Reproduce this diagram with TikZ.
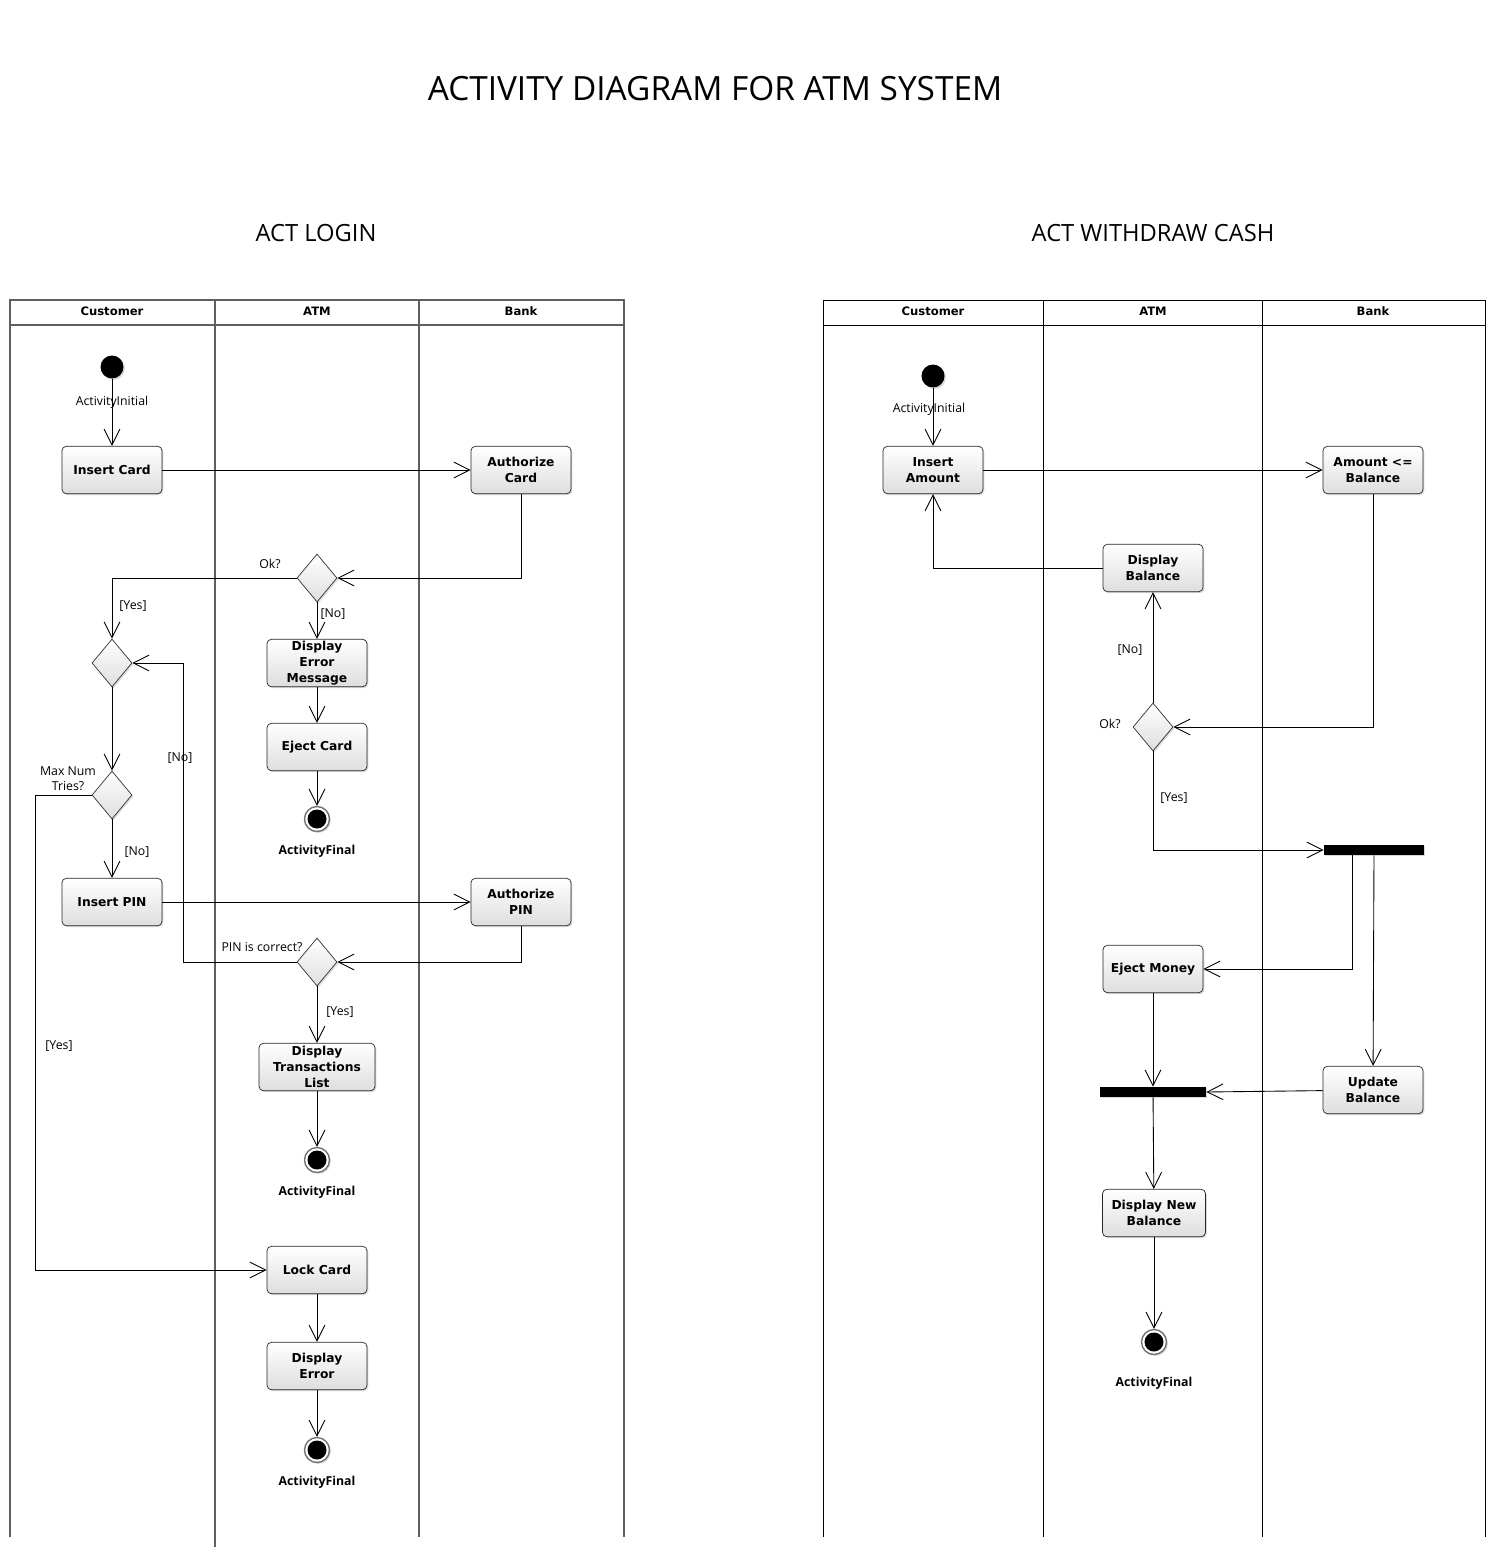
\documentclass[tikz,border=0pt]{standalone}
\usepackage{fontspec}
\setmainfont{Open Sans}
\newfontfamily\boxfont{DejaVu Sans}
\definecolor{lanegray}{RGB}{95, 95, 95}
\definecolor{boxgray}{RGB}{222, 222, 222}
\usetikzlibrary{shapes.geometric, arrows.meta, positioning, shadows}

\tikzset{
  flow/.style={draw=black, line width=0.5pt, -{Straight Barb[length=9pt,width=9pt]}},
  softshadow/.style={drop shadow={opacity=0.3, shadow xshift=0.8pt, shadow yshift=-0.8pt}},
  action/.style={draw=black!85, rounded corners=2.5pt, top color=white, bottom color=boxgray,
    softshadow, minimum width=2cm, minimum height=0.95cm, inner sep=1pt, align=center,
    font=\boxfont\bfseries\fontsize{7}{9}\selectfont},
  decision/.style={diamond, draw=black!80, top color=white, bottom color=boxgray, softshadow,
    minimum width=0.8cm, minimum height=0.96cm, inner sep=0pt},
  initial/.style={circle, fill=black, minimum size=0.46cm, inner sep=0pt, softshadow},
  final/.style={circle, draw=black!55, fill=white, line width=0.8pt, minimum size=0.5cm, inner sep=0pt,
    softshadow, path picture={\fill[black] (path picture bounding box.center) circle (0.19cm);}},
  syncbar/.style={fill=black, minimum width=2cm, minimum height=0.2cm, inner sep=0pt, softshadow},
  guard/.style={font=\fontsize{7}{8.5}\selectfont, inner sep=0pt, align=center},
  lanehead/.style={font=\boxfont\bfseries\fontsize{6.6}{8}\selectfont},
  endlabel/.style={font=\bfseries\fontsize{7}{8}\selectfont}
}

\begin{document}
\begin{tikzpicture}[x=0.02cm, y=-0.02cm]
  \useasboundingbox (0,0) rectangle (1495,1557);
  \node[font=\fontsize{19}{22}\selectfont] (title) at (715,89) {ACTIVITY DIAGRAM FOR ATM SYSTEM};
  \node[font=\fontsize{13.5}{16}\selectfont] (loginttl) at (316,233) {ACT LOGIN};
  \node[font=\fontsize{13.5}{16}\selectfont] (cashttl) at (1153,233) {ACT WITHDRAW CASH};

  % swimlanes, login
  \draw[lanegray, line width=1pt] (10,1537) -- (10,300) -- (624,300) -- (624,1537);
  \draw[lanegray, line width=1pt] (10,325) -- (624,325);
  \draw[lanegray, line width=1pt] (215,300) -- (215,1547) (419,300) -- (419,1537);
  \node[lanehead] (lcust) at (112,311) {Customer};
  \node[lanehead] (latm) at (317,311) {ATM};
  \node[lanehead] (lbank) at (521,311) {Bank};

  % swimlanes, withdraw
  \draw[black, line width=0.5pt] (823,1537) -- (823,300) -- (1485,300) -- (1485,1537);
  \draw[black, line width=0.5pt] (823,325) -- (1485,325);
  \draw[black, line width=0.5pt] (1043,300) -- (1043,1537) (1262,300) -- (1262,1537);
  \node[lanehead] (rcust) at (933,311) {Customer};
  \node[lanehead] (ratm) at (1153,311) {ATM};
  \node[lanehead] (rbank) at (1373,311) {Bank};

  % login flow
  \node[initial] (init1) at (112,367) {};
  \node[action] (insertcard) at (112,470) {Insert Card};
  \node[action] (authcard) at (521,470) {Authorize\\Card};
  \node[decision] (cardok) at (317,578) {};
  \node[decision] (merge1) at (112,663) {};
  \node[action] (errmsg) at (317,663) {Display\\Error\\Message};
  \node[action] (ejectcard) at (317,747) {Eject Card};
  \node[final] (fin1) at (317,819) {};
  \node[decision] (maxtries) at (112,795) {};
  \node[action] (insertpin) at (112,902) {Insert PIN};
  \node[action] (authpin) at (521,902) {Authorize\\PIN};
  \node[decision] (pinok) at (317,962) {};
  \node[action, minimum width=2.32cm] (translist) at (317,1067) {Display\\Transactions\\List};
  \node[final] (fin2) at (317,1160) {};
  \node[action] (lockcard) at (317,1270) {Lock Card};
  \node[action] (disperr) at (317,1366) {Display\\Error};
  \node[final] (fin3) at (317,1450) {};
  \coordinate (lockbend) at (35,795);
  \coordinate (retrybend) at (183,962);

  \node[guard] (init1lbl) at (112,402) {ActivityInitial};
  \node[guard] (cardoklbl) at (270,564) {Ok?};
  \node[guard] (cardyes) at (133,606) {[Yes]};
  \node[guard] (cardno) at (333,614) {[No]};
  \node[guard] (maxlbl) at (68,779) {Max Num\\Tries?};
  \node[guard] (maxno) at (137,852) {[No]};
  \node[guard] (maxyes) at (59,1046) {[Yes]};
  \node[guard] (retryno) at (180,758) {[No]};
  \node[guard] (pinoklbl) at (262,947) {PIN is correct?};
  \node[guard] (pinyes) at (340,1012) {[Yes]};
  \node[endlabel] (fin1lbl) at (317,851) {ActivityFinal};
  \node[endlabel] (fin2lbl) at (317,1192) {ActivityFinal};
  \node[endlabel] (fin3lbl) at (317,1482) {ActivityFinal};

  \draw[flow] (init1) -- (insertcard);
  \draw[flow] (insertcard) -- (authcard);
  \draw[flow] (authcard.south) |- (cardok.east);
  \draw[flow] (cardok.west) -| (merge1.north);
  \draw[flow] (cardok.south) -- (errmsg.north);
  \draw[flow] (errmsg) -- (ejectcard);
  \draw[flow] (ejectcard) -- (fin1);
  \draw[flow] (merge1) -- (maxtries);
  \draw[flow] (maxtries) -- (insertpin);
  \draw[flow] (maxtries.west) -- (lockbend) |- (lockcard.west);
  \draw[flow] (insertpin) -- (authpin);
  \draw[flow] (authpin.south) |- (pinok.east);
  \draw[flow] (pinok.west) -- (retrybend) |- (merge1.east);
  \draw[flow] (pinok) -- (translist);
  \draw[flow] (translist) -- (fin2);
  \draw[flow] (lockcard) -- (disperr);
  \draw[flow] (disperr) -- (fin3);

  % withdraw flow
  \node[initial] (init2) at (933,376) {};
  \node[action] (insertamt) at (933,470) {Insert\\Amount};
  \node[action] (amtcheck) at (1373,470) {Amount <=\\Balance};
  \node[action] (dispbal) at (1153,568) {Display\\Balance};
  \node[decision] (balok) at (1153,727) {};
  \node[syncbar] (forkbar) at (1374,850) {};
  \node[action] (ejectmoney) at (1153,969) {Eject Money};
  \node[action] (updatebal) at (1373,1090) {Update\\Balance};
  \node[syncbar, minimum width=2.12cm] (joinbar) at (1153,1092) {};
  \node[action, minimum width=2.06cm] (newbal) at (1154,1213) {Display New\\Balance};
  \node[final] (fin4) at (1154,1342) {};
  \coordinate (forkout) at (1352,855);

  \node[guard] (init2lbl) at (929,409) {ActivityInitial};
  \node[guard] (balno) at (1130,650) {[No]};
  \node[guard] (baloklbl) at (1110,724) {Ok?};
  \node[guard] (balyes) at (1174,798) {[Yes]};
  \node[endlabel] (fin4lbl) at (1154,1383) {ActivityFinal};

  \draw[flow] (init2) -- (insertamt);
  \draw[flow] (insertamt) -- (amtcheck);
  \draw[flow] (amtcheck.south) |- (balok.east);
  \draw[flow] (balok) -- (dispbal);
  \draw[flow] (dispbal.west) -| (insertamt.south);
  \draw[flow] (balok.south) |- (forkbar.west);
  \draw[flow] (forkout) |- (ejectmoney.east);
  \draw[flow] (forkbar) -- (updatebal);
  \draw[flow] (ejectmoney) -- (joinbar);
  \draw[flow] (updatebal) -- (joinbar.east);
  \draw[flow] (joinbar) -- (newbal);
  \draw[flow] (newbal) -- (fin4);
\end{tikzpicture}
\end{document}
